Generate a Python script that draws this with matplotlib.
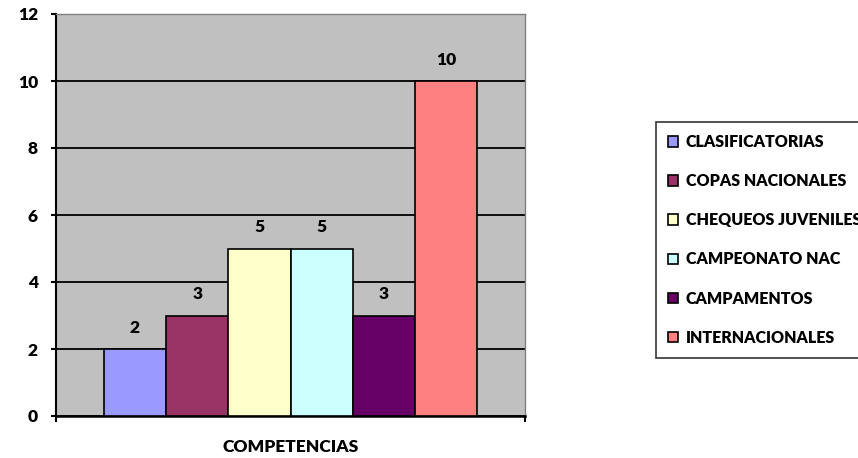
import matplotlib
matplotlib.use("Agg")
import matplotlib.pyplot as plt
from matplotlib.patches import Patch

categories = ["CLASIFICATORIAS", "COPAS NACIONALES", "CHEQUEOS JUVENILES",
              "CAMPEONATO NAC", "CAMPAMENTOS", "INTERNACIONALES"]
values = [2, 3, 5, 5, 3, 10]
colors = ["#9999FF", "#993366", "#FFFFCC", "#CCFFFF", "#660066", "#FF8080"]
yticks = [0, 2, 4, 6, 8, 10, 12]
xlabel = "COMPETENCIAS"

plt.rcParams['font.family'] = ['Lato', 'DejaVu Sans']
WT = 800
plt.rcParams['font.weight'] = WT

W, H = 858, 458
fig = plt.figure(figsize=(W / 100, H / 100), dpi=100)
ax = fig.add_axes([56 / W, (H - 416) / H, 469 / W, 402 / H])
ax.set_facecolor("#C0C0C0")

xs = list(range(len(values)))
ax.bar(xs, values, width=1.0, color=colors, edgecolor="black",
       linewidth=1.2, zorder=3)
for x, v in zip(xs, values):
    ax.text(x, v + 0.64, str(v), ha="center", va="center", fontsize=12.5,
            fontweight=WT, zorder=4)

ax.set_xlim(-1.27, 6.27)
ax.set_ylim(0, 12)
ax.set_yticks(yticks)
ax.set_yticklabels([str(t) for t in yticks], fontsize=12.5, fontweight=WT)
ax.set_xticks([])
ax.set_xticks([-1.27, 6.27], minor=True)
ax.tick_params(axis="x", which="minor", length=4, width=1.5, direction="out")
ax.tick_params(axis="y", length=3.6, width=1.5, direction="out", pad=9.4)
ax.yaxis.grid(True, color="black", linewidth=1.3, zorder=1)
ax.set_axisbelow(True)

for s in ["top", "right"]:
    ax.spines[s].set_color("#808080")
    ax.spines[s].set_linewidth(1.0)
ax.spines["left"].set_linewidth(1.5)
ax.spines["bottom"].set_linewidth(1.8)

ax.set_xlabel(xlabel, fontsize=12.5, fontweight=WT, labelpad=9)

handles = [Patch(facecolor=c, edgecolor="black", linewidth=1.2) for c in colors]
leg = fig.legend(handles, categories, loc="upper left",
                 bbox_to_anchor=(656 / W, 1 - 122 / H),
                 frameon=True, fancybox=False, edgecolor="black",
                 prop={"size": 11.5, "weight": WT},
                 handlelength=0.65, handleheight=0.65, handletextpad=0.45,
                 labelspacing=1.45, borderpad=0.75, borderaxespad=0)
leg.get_frame().set_linewidth(1.2)

fig.savefig("out.png", dpi=100)
